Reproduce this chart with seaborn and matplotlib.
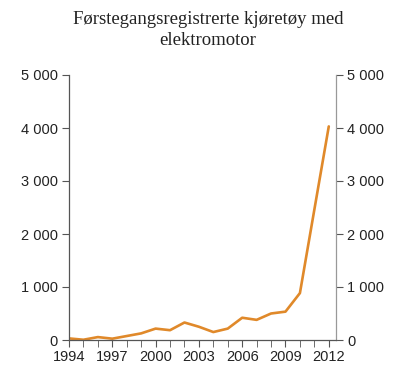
import matplotlib
matplotlib.use("Agg")
import matplotlib.pyplot as plt
import seaborn as sns
import pandas as pd
from matplotlib.ticker import FuncFormatter, MultipleLocator

years = list(range(1994, 2013))
vehicles = [30, 5, 55, 25, 75, 125, 215, 185, 330, 250, 150, 215, 420, 380, 500, 535, 885, 2460, 4030]
title = "Førstegangsregistrerte kjøretøy med\nelektromotor"
tick_years = [1994, 1997, 2000, 2003, 2006, 2009, 2012]

df = pd.DataFrame({"year": years, "value": vehicles})

sns.set_style("white")
plt.rcParams['font.family'] = ['Liberation Sans', 'DejaVu Sans']

fig = plt.figure(figsize=(4.0, 3.86), dpi=100)
ax = fig.add_axes([69/400, 1-340/386, (336-69)/400, (340-75)/386])

sns.lineplot(data=df, x="year", y="value", ax=ax, color="#E0892A", linewidth=1.9)

ax.set_xlim(1994, 2012.5)
ax.set_ylim(0, 5000)
ax.set_xlabel("")
ax.set_ylabel("")

fmt = FuncFormatter(lambda v, p: f"{int(v):,}".replace(",", " "))
ax.yaxis.set_major_locator(MultipleLocator(1000))
ax.yaxis.set_major_formatter(fmt)
ax.set_xticks(tick_years)
ax.set_xticks(years, minor=True)
ax.set_xticklabels([str(y) for y in tick_years])

ax.spines["top"].set_visible(False)
ax.spines["left"].set_color("#555555")
ax.spines["bottom"].set_color("#555555")
ax.spines["right"].set_color("#999999")
for s in ax.spines.values():
    s.set_linewidth(0.9)

ax.tick_params(axis="x", which="both", direction="out", length=5, color="#555555", labelsize=10.5, pad=2, bottom=True, labelcolor="#222222")
ax.tick_params(axis="y", which="both", direction="out", length=5, color="#555555", labelsize=10.5, left=True, right=True, labelright=True, pad=3, labelcolor="#222222")

fig.text(208/400, 1-30/386, title, ha="center", va="center", fontsize=13.5,
         family=["Liberation Serif", "DejaVu Serif"], linespacing=1.35, color="#222222")

fig.savefig("out.png", dpi=100)
